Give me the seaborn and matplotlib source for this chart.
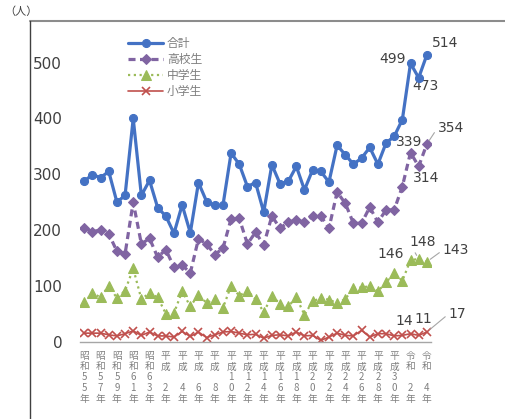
import matplotlib
matplotlib.use("Agg")
import matplotlib.pyplot as plt
import seaborn as sns
import pandas as pd
from matplotlib.lines import Line2D

sns.set_theme(style="white")
plt.rcParams['font.family'] = ['Noto Sans CJK JP', 'DejaVu Sans']

# Academic years 昭和55年 .. 令和4年 (one point per year), labels every two years
tick_labels = [
    "昭\n和\n5\n5\n年", "昭\n和\n5\n7\n年", "昭\n和\n5\n9\n年", "昭\n和\n6\n1\n年",
    "昭\n和\n6\n3\n年", "平\n成\n\n2\n年", "平\n成\n\n4\n年", "平\n成\n\n6\n年",
    "平\n成\n\n8\n年", "平\n成\n1\n0\n年", "平\n成\n1\n2\n年", "平\n成\n1\n4\n年",
    "平\n成\n1\n6\n年", "平\n成\n1\n8\n年", "平\n成\n2\n0\n年", "平\n成\n2\n2\n年",
    "平\n成\n2\n4\n年", "平\n成\n2\n6\n年", "平\n成\n2\n8\n年", "平\n成\n3\n0\n年",
    "令\n和\n\n2\n年", "令\n和\n\n4\n年",
]

total = [288, 299, 294, 305, 250, 262, 400, 262, 289, 240,
         225, 194, 245, 195, 285, 251, 244, 244, 338, 318,
         278, 285, 232, 317, 283, 287, 314, 272, 308, 305,
         286, 352, 335, 318, 329, 348, 318, 356, 368, 398,
         499, 473, 514]
high = [203, 197, 200, 193, 162, 157, 250, 175, 185, 151,
        165, 133, 137, 123, 184, 175, 156, 167, 220, 221,
        175, 196, 173, 225, 203, 214, 218, 214, 225, 225,
        203, 268, 248, 212, 212, 241, 214, 236, 236, 278,
        339, 314, 354]
middle = [70, 87, 79, 100, 78, 91, 131, 76, 87, 79,
          50, 51, 90, 63, 84, 69, 76, 60, 100, 82,
          91, 76, 53, 81, 68, 63, 79, 48, 72, 78,
          75, 69, 76, 96, 97, 99, 90, 106, 122, 109,
          146, 148, 143]
elementary = [15, 15, 15, 12, 10, 14, 19, 11, 17, 10,
              10, 8, 18, 9, 17, 7, 12, 17, 18, 15,
              12, 13, 6, 11, 12, 10, 17, 10, 11, 2,
              8, 15, 11, 10, 20, 8, 14, 14, 10, 11,
              14, 11, 17]

df = pd.DataFrame({"idx": range(len(total)), "total": total, "high": high,
                   "middle": middle, "elementary": elementary})

W, H = 506, 419
fig = plt.figure(figsize=(W / 100, H / 100), dpi=100)
ax = fig.add_axes([80.2 / W, (H - 341.5) / H, 350.7 / W, 312.2 / H])

sns.lineplot(data=df, x="idx", y="total", ax=ax, color="#4472C4", lw=2.3,
             marker="o", ms=5.8, mec="#4472C4", label="合計", zorder=4)
sns.lineplot(data=df, x="idx", y="high", ax=ax, color="#8064A2", lw=2.3,
             linestyle=(0, (2.2, 1.4)), marker="D", ms=5.3, mec="#8064A2",
             label="高校生", zorder=3)
sns.lineplot(data=df, x="idx", y="middle", ax=ax, color="#9BBB59", lw=1.6,
             linestyle=(0, (1, 1.6)), marker="^", ms=6.5, mec="#9BBB59",
             label="中学生", zorder=2)
sns.lineplot(data=df, x="idx", y="elementary", ax=ax, color="#C0504D", lw=1.2,
             marker="x", ms=5.5, mew=1.2, mec="#C0504D", label="小学生", zorder=1)

ax.set_xlim(-0.5, len(total) - 0.5)
ax.set_ylim(0, 560)
ax.set_xlabel("")
ax.set_ylabel("")

ax.set_xticks(range(0, len(total), 2))
ax.set_xticklabels(tick_labels, fontsize=7, color="#808080", linespacing=1.12)
ax.set_yticks([0, 100, 200, 300, 400, 500])
ax.set_yticklabels(["0", "100", "200", "300", "400", "500"], fontsize=11,
                   color="#404040", family="DejaVu Sans")
ax.tick_params(axis="x", length=0, pad=6.5)
ax.tick_params(axis="y", length=0, pad=13)

for s in ("top", "right", "left"):
    ax.spines[s].set_visible(False)
ax.spines["bottom"].set_color("#A6A6A6")
ax.spines["bottom"].set_linewidth(1)

# data labels on the last three years
label_style = dict(textcoords="offset pixels", ha="center", va="center",
                   fontsize=10, color="#404040", family="DejaVu Sans")
leader = dict(arrowstyle="-", color="#A6A6A6", lw=0.8, shrinkA=0, shrinkB=3,
              relpos=(0, 0.5))
n = len(total)
placements = [
    (total, n - 3, (-18, 4), False), (total, n - 2, (7, -8.5), False),
    (total, n - 1, (18, 11.5), False),
    (high, n - 3, (-1, 11), False), (high, n - 2, (7, -12), False),
    (high, n - 1, (24, 16.5), True),
    (middle, n - 3, (-20, 6.5), False), (middle, n - 2, (4, 16.5), True),
    (middle, n - 1, (29, 11.5), True),
    (elementary, n - 3, (-6, 13), False), (elementary, n - 2, (4.5, 16.5), False),
    (elementary, n - 1, (30.5, 18), True),
]
for series, i, off, has_leader in placements:
    kw = dict(label_style)
    if has_leader:
        kw["arrowprops"] = leader
    ax.annotate(str(series[i]), xy=(i, series[i]), xytext=off, **kw)

ax.legend(loc="upper left", bbox_to_anchor=(128 / W, 1 - 37 / H),
          bbox_transform=fig.transFigure, frameon=False, fontsize=8.5,
          handlelength=3.0, handletextpad=0.3, labelspacing=0.25,
          borderpad=0, borderaxespad=0, labelcolor="#7f7f7f")

# chart-area border (top and left edges)
fig.add_artist(Line2D([30 / W, 1], [1 - 21 / H, 1 - 21 / H],
                      transform=fig.transFigure, color="#8c8c8c", lw=1.5))
fig.add_artist(Line2D([30 / W, 30 / W], [0, 1 - 21 / H],
                      transform=fig.transFigure, color="#404040", lw=1))

fig.text(4 / W, 1 - 12 / H, "（人）", fontsize=8, color="#404040", va="center")

fig.savefig("out.png", dpi=100)
